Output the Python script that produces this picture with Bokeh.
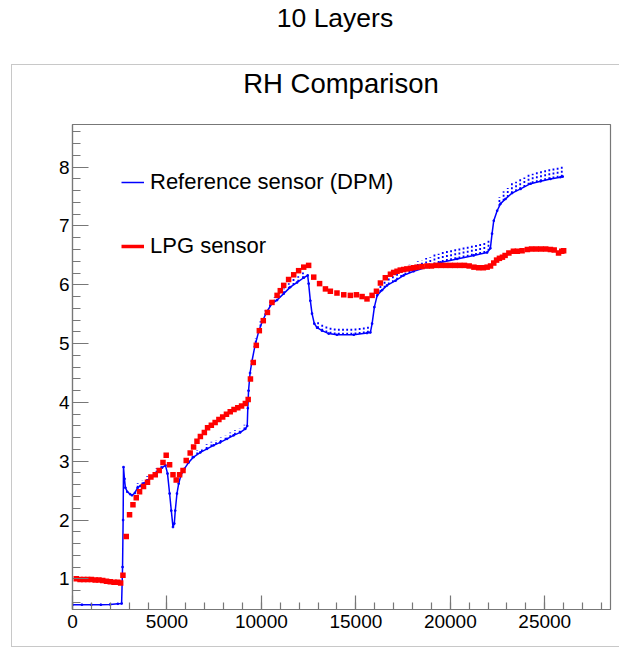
import numpy as np
from bokeh.plotting import figure
from bokeh.layouts import column
from bokeh.models import (Range1d, SingleIntervalTicker, Legend, LegendItem, Div)
from bokeh.embed import file_html
from bokeh.resources import INLINE

# ---------------- data ----------------
# Reference sensor (DPM): trace
ref_x = [0, 500, 1000, 1500, 2000, 2400, 2600, 2650, 2680, 2700, 2750, 2800, 2900,
         3050, 3150, 3300, 3450, 3600, 3760, 3970, 4200, 4470, 4740, 4920, 5030,
         5140, 5230, 5320, 5390, 5440, 5530, 5620, 5740, 5920, 6150, 6410, 6770,
         7120, 7470, 7820, 8180, 8530, 8880, 9150, 9250, 9280, 9320, 9400, 9500,
         9650, 9850, 10050, 10300, 10560, 10830, 11180, 11530, 11890, 12240, 12450,
         12500, 12590, 12680, 12800, 12950, 13210, 13560, 14000, 14890, 15590, 15770,
         15860, 15980, 16130, 16390, 16650, 17100, 17530, 18060, 18770, 19480, 20360,
         21240, 21950, 22120, 22210, 22300, 22480, 22660, 22920, 23270, 23720, 24250,
         24780, 25300, 25830, 25950]
ref_y = [0.56, 0.56, 0.56, 0.56, 0.565, 0.575, 0.58, 1.2, 2.0, 2.9, 2.7, 2.55, 2.48,
         2.44, 2.42, 2.46, 2.55, 2.58, 2.62, 2.67, 2.73, 2.81, 2.89, 2.93, 2.79,
         2.45, 2.16, 1.88, 1.94, 2.16, 2.45, 2.62, 2.76, 2.87, 2.98, 3.07, 3.15,
         3.21, 3.27, 3.32, 3.38, 3.44, 3.49, 3.55, 3.60, 3.90, 4.20, 4.50, 4.70,
         4.95, 5.20, 5.38, 5.55, 5.68, 5.74, 5.85, 5.96, 6.04, 6.12, 6.16,
         6.02, 5.73, 5.51, 5.34, 5.27, 5.22, 5.17, 5.15, 5.15, 5.18, 5.19,
         5.34, 5.62, 5.82, 5.91, 5.99, 6.07, 6.16, 6.23, 6.30, 6.38, 6.44,
         6.50, 6.55, 6.62, 6.87, 7.09, 7.26, 7.38, 7.46, 7.56, 7.63, 7.72,
         7.76, 7.80, 7.83, 7.84]

# Reference sensor: short upward excursions (x position, height above trace)
ref_spike_x = [3450, 3700, 3950, 4200, 4450, 4700,
               5850, 6100, 6350, 6600, 6850, 7100, 7350, 7600, 7850, 8100, 8350, 8600, 8850, 9100,
               9700, 9950, 10200, 10450, 10700, 10950, 11200, 11450, 11700, 11950, 12200,
               13000, 13220, 13440, 13660, 13880, 14100, 14320, 14540, 14760, 14980, 15200, 15420, 15640,
               16300, 16520, 16740, 16960, 17180, 17400, 17620, 17840, 18060, 18280, 18500, 18720,
               18940, 19160, 19380, 19600, 19820, 20040, 20260, 20480, 20700, 20920, 21140, 21360,
               21580, 21800, 22020,
               22600, 22820, 23040, 23260, 23480, 23700, 23920, 24140, 24360, 24580, 24800, 25020,
               25240, 25460, 25680, 25900]
ref_spike_h = [0.08, 0.07, 0.08, 0.07, 0.08, 0.07,
               0.07, 0.08, 0.07, 0.08, 0.07, 0.08, 0.08, 0.07, 0.08, 0.07, 0.08, 0.08, 0.07, 0.08,
               0.08, 0.09, 0.08, 0.09, 0.08, 0.09, 0.08, 0.09, 0.10, 0.09, 0.10,
               0.11, 0.12, 0.11, 0.12, 0.11, 0.12, 0.11, 0.12, 0.11, 0.12, 0.11, 0.12, 0.11,
               0.10, 0.12, 0.11, 0.13, 0.12, 0.13, 0.12, 0.14, 0.13, 0.15, 0.14, 0.16,
               0.15, 0.17, 0.16, 0.18, 0.17, 0.18, 0.17, 0.19, 0.18, 0.19, 0.18, 0.19,
               0.18, 0.19, 0.18,
               0.15, 0.16, 0.15, 0.17, 0.16, 0.17, 0.16, 0.17, 0.16, 0.18, 0.17, 0.18,
               0.17, 0.18, 0.17, 0.18]

# LPG sensor
lpg_x = [200, 400, 600, 800, 1000, 1200, 1400, 1600, 1800, 2000, 2200, 2400, 2550,
         2670, 2845, 3020, 3200, 3375, 3550, 3760, 3970, 4150, 4380, 4590, 4790, 4960,
         5140, 5320, 5490, 5670, 5850, 6020, 6230, 6410, 6590, 6770, 6980, 7150, 7350,
         7550, 7750, 7950, 8150, 8350, 8550, 8750, 8950, 9150, 9300, 9420, 9570, 9730,
         9890, 10100, 10320, 10560, 10830, 11000, 11180, 11440, 11710, 11970, 12240,
         12500, 12770, 13080, 13390, 13650, 14000, 14360, 14710, 15030, 15330, 15590,
         15860, 16090, 16300, 16560, 16830, 17000, 17180, 17350, 17530, 17700, 17890,
         18060, 18240, 18500, 18770, 19000, 19250, 19500, 19750, 20000, 20250, 20500,
         20750, 21000, 21250, 21500, 21750, 21950, 22130, 22300, 22450, 22600, 22760,
         22900, 23100, 23340, 23550, 23800, 24080, 24300, 24550, 24800, 25050, 25300,
         25500, 25730, 25900, 26000]
lpg_y = [1.00, 0.99, 0.99, 0.99, 0.99, 0.98, 0.98, 0.97, 0.96, 0.95, 0.94, 0.94, 0.93,
         1.06, 1.72, 2.09, 2.26, 2.38, 2.48, 2.57, 2.64, 2.73, 2.77, 2.84, 2.98, 3.10,
         2.94, 2.77, 2.68, 2.77, 2.84, 3.01, 3.14, 3.24, 3.34, 3.42, 3.49, 3.57, 3.61,
         3.66, 3.71, 3.75, 3.80, 3.84, 3.88, 3.91, 3.94, 3.98, 4.05, 4.40, 4.68, 4.97,
         5.22, 5.39, 5.53, 5.70, 5.82, 5.90, 5.99, 6.09, 6.17, 6.24, 6.30,
         6.33, 6.13, 6.02, 5.93, 5.89, 5.86, 5.83, 5.82, 5.83, 5.80, 5.76,
         5.82, 5.89, 6.03, 6.12, 6.18, 6.21, 6.23, 6.25, 6.26, 6.27, 6.28,
         6.29, 6.30, 6.31, 6.32, 6.32, 6.33, 6.33, 6.33, 6.33, 6.33, 6.33,
         6.33, 6.32, 6.30, 6.29, 6.29, 6.30, 6.32, 6.37, 6.42, 6.45, 6.47,
         6.50, 6.54, 6.57, 6.57, 6.58, 6.60, 6.61, 6.61, 6.61, 6.61, 6.60,
         6.59, 6.54, 6.57, 6.58]

x_major = 5000
y_major = 1

FONT = "Liberation Sans"
AXIS_GREY = "#777777"


def title_div(text, size, pad_top, width, height, left):
    html = ('<div style="font-family:\'%s\'; font-size:%spx; line-height:%spx; '
            'text-align:center; padding-top:%spx; color:black; white-space:nowrap; '
            'width:%spx;">%s</div>' % (FONT, size, size, pad_top, width, text))
    return Div(text=html, width=width, height=height, margin=(0, 0, 0, left))


top_div = title_div("10 Layers", 26.5, 5, 568, 65, 51)
rh_div = title_div("RH Comparison", 27.5, 5, 538, 54, 60)

p = figure(width=607, height=527, output_backend="svg", toolbar_location=None,
           x_range=Range1d(0, 28480), y_range=Range1d(0.478, 8.726),
           min_border_left=60, min_border_right=9, min_border_top=5,
           min_border_bottom=37, title=None, margin=(0, 0, 0, 0))
p.background_fill_color = "white"
p.border_fill_color = "white"
p.outline_line_color = AXIS_GREY
p.outline_line_width = 1.2
p.xgrid.visible = False
p.ygrid.visible = False

for ax, tk in ((p.xaxis[0], SingleIntervalTicker(interval=x_major, num_minor_ticks=5)),
               (p.yaxis[0], SingleIntervalTicker(interval=y_major, num_minor_ticks=5))):
    ax.ticker = tk
    ax.axis_line_color = AXIS_GREY
    ax.axis_line_width = 1.2
    ax.major_tick_line_color = AXIS_GREY
    ax.minor_tick_line_color = AXIS_GREY
    ax.major_tick_line_width = 1.2
    ax.minor_tick_line_width = 1.2
    ax.major_tick_out = 0
    ax.minor_tick_out = 0
    ax.major_label_text_font = FONT
    ax.major_label_text_font_size = "19px"
    ax.major_label_text_color = "black"
p.xaxis.major_tick_in = 14
p.xaxis.minor_tick_in = 7
p.yaxis.major_tick_in = 16
p.yaxis.minor_tick_in = 8
p.xaxis.major_label_standoff = 5
p.yaxis.major_label_standoff = 3

# reference sensor
base = np.interp(ref_spike_x, ref_x, ref_y)
p.segment(x0=ref_spike_x, y0=base, x1=ref_spike_x, y1=base + np.array(ref_spike_h),
          line_color="blue", line_width=1.8, line_dash="2 2")
ref_line = p.line(ref_x, ref_y, line_color="blue", line_width=1.5)
p.scatter(ref_x, ref_y, marker="square", size=1.5, color="blue")

# LPG sensor
lpg_leg = p.line(lpg_x, lpg_y, line_color="red", line_width=3.5, visible=False)
p.scatter(lpg_x, lpg_y, marker="square", size=5.5, color="red", line_color=None)

legend = Legend(items=[LegendItem(label="Reference sensor (DPM)", renderers=[ref_line]),
                       LegendItem(label="LPG sensor", renderers=[lpg_leg])],
                location=(49, 350), padding=0, margin=0, spacing=38,
                glyph_width=23, glyph_height=24, label_height=24, label_standoff=6,
                label_text_font=FONT, label_text_font_size="22px",
                label_text_color="black",
                border_line_alpha=0, background_fill_alpha=0, click_policy="none")
p.add_layout(legend, "center")

canvas = column(rh_div, p, width=607, height=581, margin=(0, 0, 0, 12), spacing=0,
                styles={"outline": "1px solid #c8c8c8", "background": "white"})
page = column(top_div, canvas, width=619, height=646, spacing=0, margin=(0, 0, 0, 0))

open("out.html", "w").write(file_html(page, INLINE))
